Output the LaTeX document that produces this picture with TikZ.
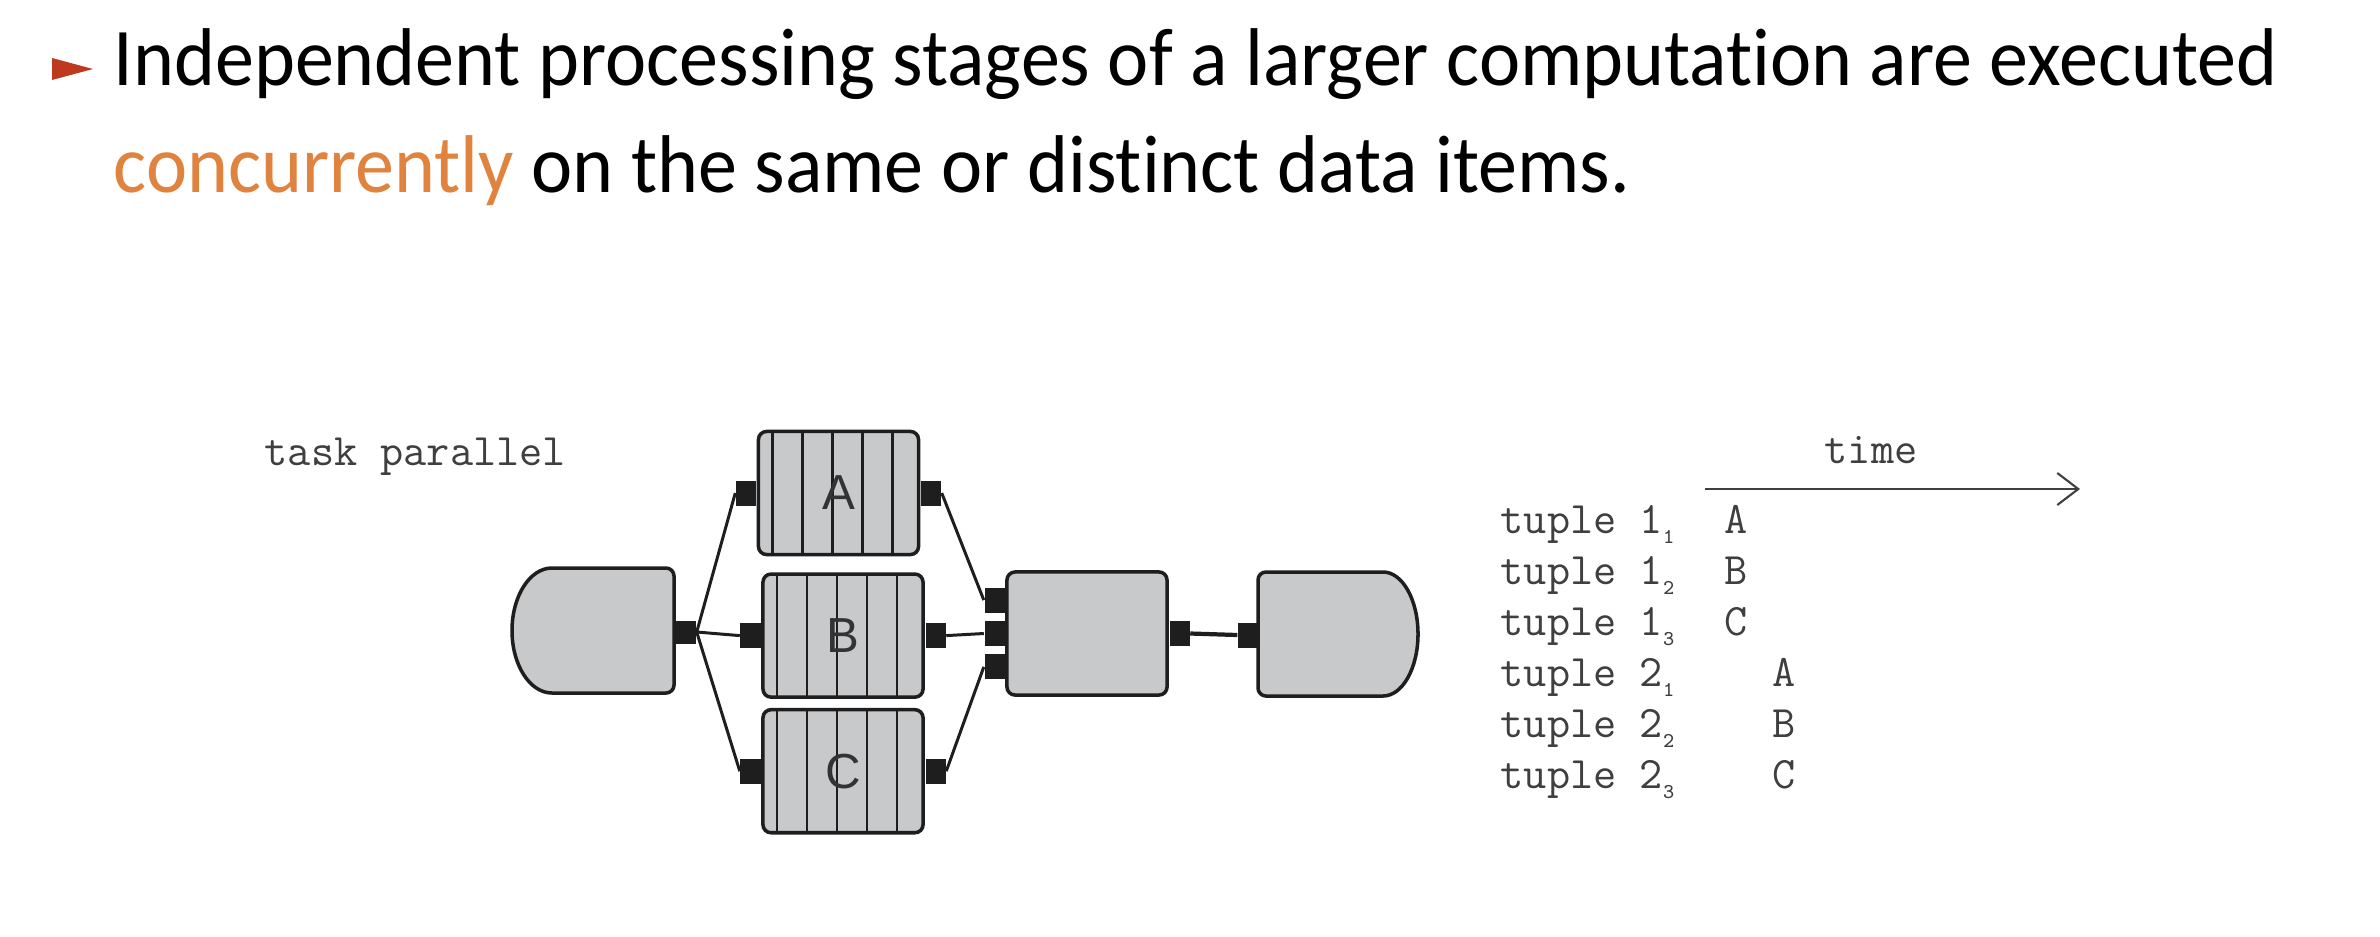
\documentclass[tikz,border=0pt]{standalone}
\usepackage{fontspec}
\setmainfont{Carlito}[Ligatures=NoCommon, FakeStretch=0.952]
\newfontfamily\labelfont{Liberation Sans}
\usetikzlibrary{arrows.meta, positioning}
\definecolor{bulletRed}{HTML}{BE3A1F}
\definecolor{accentOrange}{HTML}{E0833F}
\definecolor{stageGray}{HTML}{C8C9CB}
\definecolor{inkDark}{HTML}{1E1E1E}
\definecolor{textGray}{HTML}{3F3F3F}
\definecolor{letterGray}{HTML}{333333}

% small lowered index after the tuple number
\newcommand{\tsub}[1]{\raisebox{-3pt}{\fontsize{6pt}{6pt}\selectfont #1}}

\begin{document}
\begin{tikzpicture}[
    x=0.01cm, y=-0.01cm,
    % Heading lines
    headline/.style={
        anchor=base west,
        inner sep=0pt,
        font=\fontsize{23.3pt}{28pt}\selectfont
    },
    % Striped stage boxes (A, B, C)
    stage/.style={
        rectangle,
        rounded corners=2.3pt,
        draw=inkDark,
        fill=stageGray,
        line width=1pt,
        minimum width=1.6cm,
        minimum height=1.23cm,
        inner sep=0pt,
        text=letterGray,
        font=\labelfont\fontsize{14pt}{15pt}\selectfont,
        path picture={
            \foreach \dx in {0.14,0.44,0.74,1.04,1.34}
                \draw[stripe] ([xshift=\dx cm]path picture bounding box.north west)
                    -- ([xshift=\dx cm]path picture bounding box.south west);
        }
    },
    % Plain join box
    joinbox/.style={
        rectangle,
        rounded corners=2.3pt,
        draw=inkDark,
        fill=stageGray,
        line width=1pt,
        minimum width=1.6cm,
        minimum height=1.23cm
    },
    % Source / sink outlines
    endcap/.style={
        draw=inkDark,
        fill=stageGray,
        line width=1pt
    },
    % Black connector ports
    port/.style={
        rectangle,
        fill=inkDark,
        inner sep=0pt,
        minimum width=0.2cm,
        minimum height=0.25cm
    },
    stripe/.style={draw=inkDark, line width=0.7pt},
    link/.style={draw=inkDark, line width=0.85pt},
    timeline/.style={draw=textGray, line width=0.6pt, -{Straight Barb[length=0.21cm, width=0.32cm]}},
    % Typewriter annotations
    mono/.style={
        anchor=base west,
        inner sep=0pt,
        text=textGray,
        font=\ttfamily\fontsize{12.8pt}{14pt}\selectfont
    }
]

\useasboundingbox (0,0) rectangle (2380,936);
\fill[white] (0,0) rectangle (2380,936);

% --- HEADING ---
\fill[bulletRed] (52,58) -- (93,69) -- (52,80) -- cycle;
\node[headline] (line1) at (113,85) {Independent processing stages of a larger computation are executed};
\node[headline] (line2) at (113,192) {\textcolor{accentOrange}{concurrently} on the same or distinct data items.};

% --- LABEL ---
\node[mono] (taskLabel) at (264,465) {task parallel};

% --- SOURCE ---
\draw[endcap] (552,568) -- (666,568) arc[start angle=270, end angle=360, radius=8]
    -- (674,685) arc[start angle=0, end angle=90, radius=8]
    -- (552,693) arc[start angle=90, end angle=270, x radius=40, y radius=62.5] -- cycle;
\node[port, minimum width=0.22cm, minimum height=0.23cm] (srcOut) at (685,632) {};

% --- STAGES ---
\node[stage] (A) at (838.5,493) {A};
\node[stage, below=0.16cm of A, xshift=0.045cm] (B) {B};
\node[stage, below=0.09cm of B] (C) {C};
\node[port, left=0pt of A] (aIn) {};
\node[port, right=0pt of A] (aOut) {};
\node[port, left=0pt of B] (bIn) {};
\node[port, right=0pt of B] (bOut) {};
\node[port, left=0pt of C] (cIn) {};
\node[port, right=0pt of C] (cOut) {};

% --- JOIN ---
\node[joinbox] (M) at (1087,633.5) {};
\node[port, left=0pt of M] (mIn2) {};
\node[port, above=0.07cm of mIn2] (mIn1) {};
\node[port, below=0.07cm of mIn2] (mIn3) {};
\node[port, right=0pt of M] (mOut) {};

% --- SINK ---
\draw[endcap] (1266,572) -- (1383,572) arc[start angle=270, end angle=450, x radius=35, y radius=62]
    -- (1266,696) arc[start angle=90, end angle=180, radius=8]
    -- (1258,580) arc[start angle=180, end angle=270, radius=8] -- cycle;
\node[port] (sinkIn) at (1248,635) {};

% --- CONNECTIONS ---
\draw[link] (srcOut.east) -- (aIn.west);
\draw[link] (srcOut.east) -- (bIn.west);
\draw[link] (srcOut.east) -- (cIn.west);
\draw[link] (aOut.east) -- (mIn1.west);
\draw[link] (bOut.east) -- (mIn2.west);
\draw[link] (cOut.east) -- (mIn3.west);
\draw[link, line width=1.2pt] (mOut.east) -- (sinkIn.west);

% --- TIME TABLE ---
\node[mono] (timeLabel) at (1824,463) {time};
\coordinate (tStart) at (1705,489);
\coordinate (tEnd) at (2080,489);
\draw[timeline] (tStart) -- (tEnd);
\foreach \tup/\sub/\lab/\col [count=\i] in {1/1/A/1724, 1/2/B/1724, 1/3/C/1724, 2/1/A/1772, 2/2/B/1772, 2/3/C/1772} {
    \node[mono] (tuple\i) at (1500,{482+51*\i}) {tuple \tup\tsub{\sub}};
    \node[mono] (slot\i) at (\col,{482+51*\i}) {\lab};
}

\end{tikzpicture}
\end{document}
